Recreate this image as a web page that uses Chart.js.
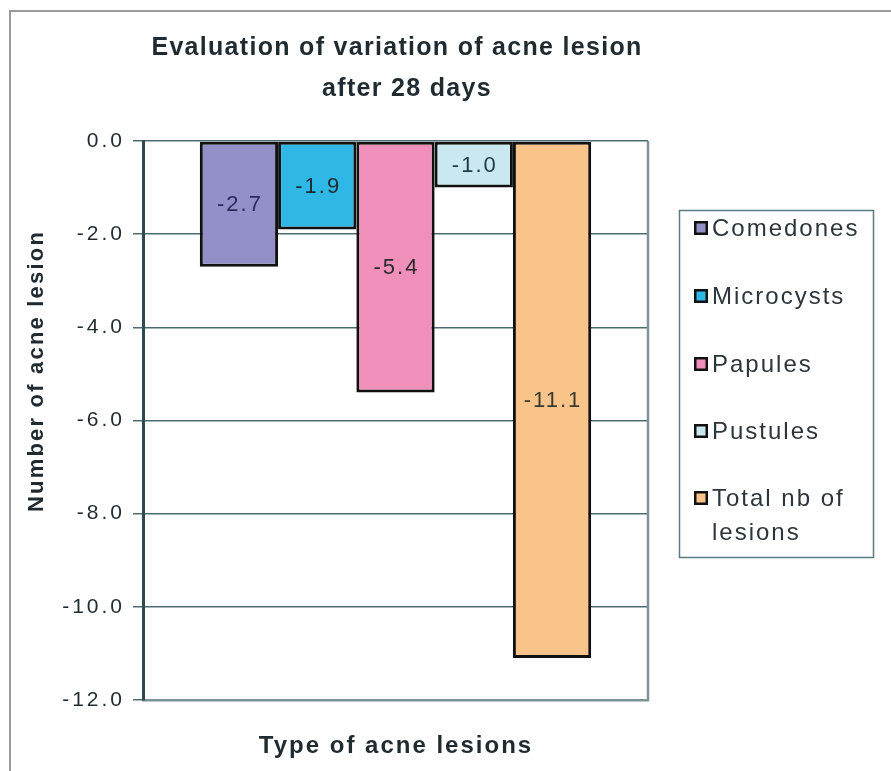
<!DOCTYPE html>
<html>
<head>
<meta charset="utf-8">
<script src="https://cdn.jsdelivr.net/npm/chart.js@4"></script>
<style>
  html, body { margin: 0; padding: 0; background: #fff; }
  #chart { display: block; }
</style>
</head>
<body>
<canvas id="chart" width="891" height="771"></canvas>
<script>
// данные графика
const lesionTypes = ["Comedones", "Microcysts", "Papules", "Pustules", "Total nb of lesions"];
const lesionChange = [-2.7, -1.9, -5.4, -1.0, -11.1];
const barColors = ["#9290c6", "#2fb8e6", "#f08fba", "#c9e8ef", "#f8c48a"];
const labelColors = ["#2a2a5c", "#1f2a30", "#2a2a2a", "#1f3a40", "#3a3a30"];
const titleLines = ["Evaluation of variation of acne lesion", "after 28 days"];
const yAxisTitle = "Number of acne lesion";
const xAxisTitle = "Type of acne lesions";
const yMin = -12, yMax = 0, yStep = 2;

const textColor = "#1f2b31";
const gridColor = "#4e6b73";
const font = "Arial, 'Liberation Sans'";

// рамка, заголовки, подписи и легенда
const decor = {
  id: "decor",
  beforeDraw(chart) {
    const c = chart.ctx;
    c.save();
    c.fillStyle = "#fff";
    c.fillRect(0, 0, chart.width, chart.height);
    c.strokeStyle = "#9a9a9a";
    c.lineWidth = 2;
    c.beginPath();
    c.moveTo(10, chart.height);
    c.lineTo(10, 11);
    c.lineTo(chart.width, 11);
    c.stroke();
    c.restore();
    // разреженный шрифт для подписей оси
    c.letterSpacing = "3px";
  },
  afterDatasetsDraw(chart) {
    const c = chart.ctx;
    c.save();
    c.letterSpacing = "2px";
    c.font = "22px " + font;
    c.textAlign = "center";
    c.textBaseline = "middle";
    chart.data.datasets.forEach((ds, i) => {
      const bar = chart.getDatasetMeta(i).data[0];
      const mid = (bar.y + bar.base) / 2;
      c.fillStyle = labelColors[i];
      c.fillText(ds.data[0].toFixed(1), bar.x + 1, mid + 1);
    });
    c.restore();
  },
  afterDraw(chart) {
    const c = chart.ctx;
    const a = chart.chartArea;
    c.save();
    // правая граница области графика
    c.strokeStyle = "#7d939a";
    c.lineWidth = 2.5;
    c.beginPath();
    c.moveTo(a.right, a.top);
    c.lineTo(a.right, a.bottom + 1);
    c.stroke();

    // заголовок
    c.fillStyle = textColor;
    c.textAlign = "center";
    c.textBaseline = "middle";
    c.font = "bold 25px " + font;
    c.letterSpacing = "1.3px";
    c.fillText(titleLines[0], 397, 48);
    c.fillText(titleLines[1], 407, 89);

    // подписи осей
    c.font = "bold 24px " + font;
    c.letterSpacing = "2px";
    c.fillText(xAxisTitle, 396, 746);
    c.save();
    c.font = "bold 22px " + font;
    c.letterSpacing = "2.2px";
    c.translate(37, 371);
    c.rotate(-Math.PI / 2);
    c.fillText(yAxisTitle, 0, 0);
    c.restore();

    // легенда
    c.strokeStyle = "#5d7a82";
    c.lineWidth = 1.5;
    c.strokeRect(679.5, 210.5, 194, 347);
    c.font = "24px " + font;
    c.letterSpacing = "2px";
    c.textAlign = "left";
    const rowY = [228, 296, 364, 431, 498];
    lesionTypes.forEach((name, i) => {
      const y = rowY[i];
      c.fillStyle = "#111";
      c.fillRect(694, y - 7, 14, 14);
      c.fillStyle = barColors[i];
      c.fillRect(696.5, y - 4.5, 9, 9);
      c.fillStyle = "#2b353b";
      // перенос длинного названия
      const words = name.split(" ");
      let line = "", lines = [];
      words.forEach(w => {
        const t = line ? line + " " + w : w;
        if (c.measureText(t).width > 152 && line) { lines.push(line); line = w; }
        else line = t;
      });
      lines.push(line);
      lines.forEach((l, k) => c.fillText(l, 712, y + 1 + k * 34));
    });
    c.restore();
  }
};

new Chart(document.getElementById("chart"), {
  type: "bar",
  data: {
    labels: [""],
    datasets: lesionTypes.map((name, i) => ({
      label: name,
      data: [lesionChange[i]],
      backgroundColor: barColors[i],
      borderColor: "#111",
      borderWidth: 3,
      borderSkipped: false,
      categoryPercentage: 0.775,
      barPercentage: 1
    }))
  },
  options: {
    responsive: false,
    animation: false,
    devicePixelRatio: 1,
    layout: { padding: { left: 0, top: 141, right: 243, bottom: 71 } },
    plugins: {
      legend: { display: false },
      title: { display: false },
      tooltip: { enabled: false }
    },
    scales: {
      x: {
        grid: { display: false },
        ticks: { display: false },
        border: { display: true, color: "#7d939a", width: 2.5 },
        afterFit: s => { s.height = 0; }
      },
      y: {
        min: yMin,
        max: yMax,
        ticks: {
          stepSize: yStep,
          color: textColor,
          font: { family: font, size: 21 },
          padding: 8,
          callback: v => Number(v).toFixed(1)
        },
        grid: { color: gridColor, lineWidth: 1.5, tickLength: 10, tickColor: gridColor },
        border: { display: true, color: "#2e4a52", width: 3 },
        afterFit: s => { s.width = 143; }
      }
    }
  },
  plugins: [decor]
});
</script>
</body>
</html>
